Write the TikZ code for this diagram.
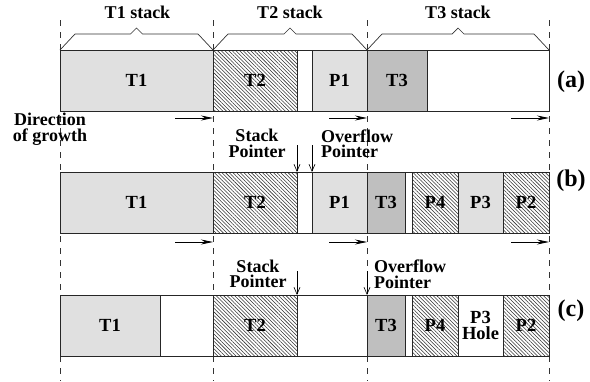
\documentclass[tikz,border=0pt]{standalone}
\usepackage{fontspec}
\setmainfont{Liberation Serif}
\usetikzlibrary{arrows.meta,patterns.meta}
\definecolor{lg}{gray}{0.88}
\definecolor{dg}{gray}{0.75}
\begin{document}
\begin{tikzpicture}[x=1pt,y=-1pt,
  cell/.style={draw=black!85, line width=0.8pt, minimum height=61pt, inner sep=0pt, outer sep=0pt, font=\fontsize{18.5}{15.5}\selectfont\bfseries, align=center},
  light/.style={cell, fill=lg},
  dark/.style={cell, fill=dg},
  empty/.style={cell, fill=white},
  hatch/.style={cell, preaction={fill=white}, pattern={Lines[angle=-45,distance=2.6pt,line width=0.55pt]}, pattern color=black!80},
  lbl/.style={font=\fontsize{18}{15.5}\selectfont\bfseries, inner sep=0pt, align=center},
  lbll/.style={font=\fontsize{18}{15.5}\selectfont\bfseries, inner sep=0pt, align=left},
  rowlbl/.style={font=\fontsize{24}{28}\selectfont\bfseries, inner sep=0pt},
  guide/.style={dash pattern=on 6pt off 6pt, line width=0.6pt, black!80},
  brace/.style={line width=0.7pt, black!80, line join=miter},
  growarrow/.style={line width=0.9pt, -{Stealth[length=12pt,width=5pt]}},
  ptr/.style={line width=0.6pt, -{Straight Barb[length=7pt,width=6pt]}}
]
\useasboundingbox (0,0) rectangle (590,381);

% dashed guide lines
\foreach \x in {60,213,367,549} {
  \draw[guide] (\x,20) -- (\x,381);
}

% stack braces
\foreach \xa/\xb/\n in {60/213/1,213/367/2,367/549/3} {
  \pgfmathsetmacro{\xm}{(\xa+\xb)/2}
  \draw[brace] (\xa,50) -- (\xa+15,34) -- (\xm-6,34) -- (\xm,28) -- (\xm+6,34) -- (\xb-15,34) -- (\xb,50);
}
\node[lbl, anchor=base] (s1) at (137.5,18.5) {T1 stack};
\node[lbl, anchor=base] (s2) at (290,18.5) {T2 stack};
\node[lbl, anchor=base] (s3) at (458,18.5) {T3 stack};

% row (a)
\node[light, minimum width=153pt] (a1) at (136.5,80.5) {T1};
\node[hatch, minimum width=84pt]  (a2) at (255,80.5) {T2};
\node[empty, minimum width=15pt]  (a3) at (304.5,80.5) {};
\node[light, minimum width=55pt]  (a4) at (339.5,80.5) {P1};
\node[dark,  minimum width=60pt]  (a5) at (397,80.5) {T3};
\node[empty, minimum width=122pt] (a6) at (488,80.5) {};
\node[rowlbl] (la) at (571,82) {(a)};

% row (b)
\node[light, minimum width=153pt] (b1) at (136.5,202.5) {T1};
\node[hatch, minimum width=84pt]  (b2) at (255,202.5) {T2};
\node[empty, minimum width=15pt]  (b3) at (304.5,202.5) {};
\node[light, minimum width=55pt]  (b4) at (339.5,202.5) {P1};
\node[dark,  minimum width=38pt]  (b5) at (386,202.5) {T3};
\node[empty, minimum width=7pt]   (b6) at (408.5,202.5) {};
\node[hatch, minimum width=46pt]  (b7) at (435,202.5) {P4};
\node[light, minimum width=45pt]  (b8) at (480.5,202.5) {P3};
\node[hatch, minimum width=46pt]  (b9) at (526,202.5) {P2};
\node[rowlbl] (lb) at (571,181) {(b)};

% row (c)
\node[light, minimum width=100pt] (c1) at (110,325.5) {T1};
\node[empty, minimum width=53pt]  (c2) at (186.5,325.5) {};
\node[hatch, minimum width=84pt]  (c3) at (255,325.5) {T2};
\node[empty, minimum width=70pt]  (c4) at (332,325.5) {};
\node[dark,  minimum width=38pt]  (c5) at (386,325.5) {T3};
\node[empty, minimum width=7pt]   (c6) at (408.5,325.5) {};
\node[hatch, minimum width=46pt]  (c7) at (435,325.5) {P4};
\node[empty, minimum width=45pt]  (c8) at (480.5,325.5) {P3\\Hole};
\node[hatch, minimum width=46pt]  (c9) at (526,325.5) {P2};
\node[rowlbl] (lc) at (571,311) {(c)};

% direction of growth arrows
\foreach \x/\n in {213/1,367/2,549/3} {
  \coordinate (gas\n) at (\x-38,118);
  \coordinate (gae\n) at (\x,118);
  \draw[growarrow] (gas\n) -- (gae\n);
  \coordinate (gbs\n) at (\x-38,242);
  \coordinate (gbe\n) at (\x,242);
  \draw[growarrow] (gbs\n) -- (gbe\n);
}
\node[lbl] (dir) at (50,129) {Direction\\of growth};

% pointers (b)
\node[lbl] (spb) at (257,143.5) {Stack\\Pointer};
\node[lbll, anchor=west] (opb) at (321,143.5) {Overflow\\Pointer};
\coordinate (spbs) at (297,145);
\coordinate (spbe) at (297,172);
\coordinate (opbs) at (312,145);
\coordinate (opbe) at (312,172);
\draw[ptr] (spbs) -- (spbe);
\draw[ptr] (opbs) -- (opbe);

% pointers (c)
\node[lbl] (spc) at (258,274) {Stack\\Pointer};
\node[lbll, anchor=west] (opc) at (374,274) {Overflow\\Pointer};
\coordinate (spcs) at (297,271);
\coordinate (spce) at (297,295);
\coordinate (opcs) at (367,271);
\coordinate (opce) at (367,295);
\draw[ptr] (spcs) -- (spce);
\draw[ptr] (opcs) -- (opce);
\end{tikzpicture}
\end{document}
